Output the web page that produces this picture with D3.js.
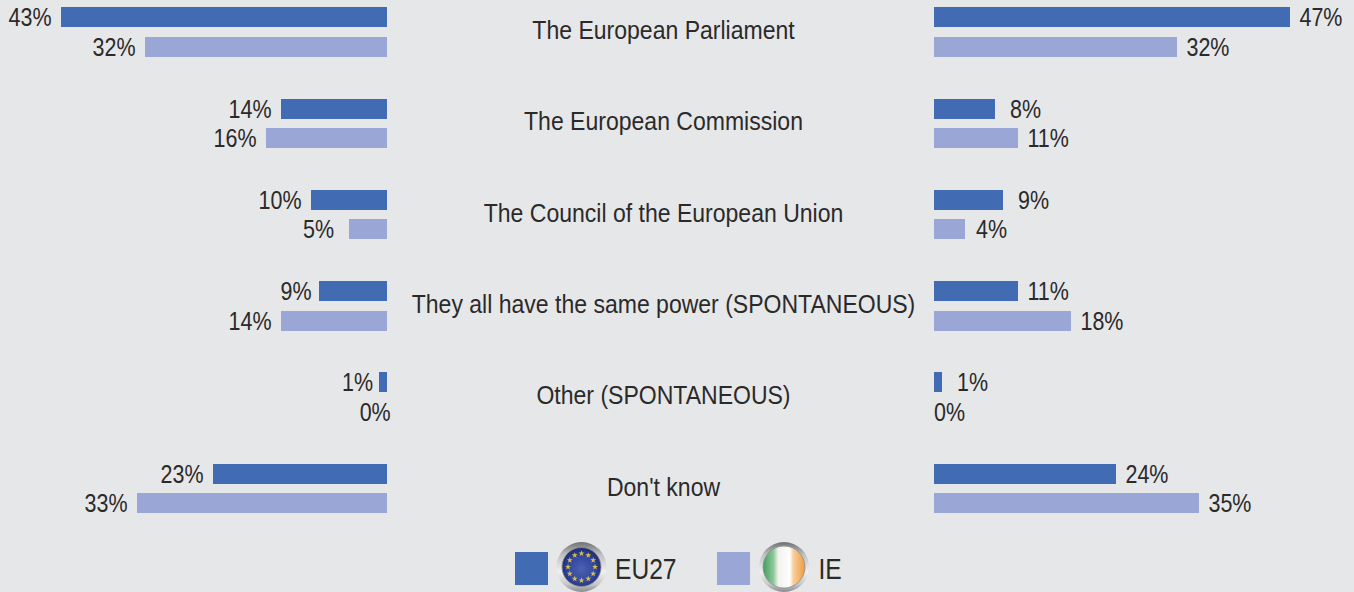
<!DOCTYPE html>
<html><head><meta charset="utf-8">
<script src="https://cdn.jsdelivr.net/npm/d3@7/dist/d3.min.js"></script>
<style>html,body{margin:0;padding:0;background:#e6e7e9;overflow:hidden}
text{font-family:"Liberation Sans",Arial,sans-serif;fill:#2b2a29}</style>
</head><body><svg id="c" width="1354" height="592"></svg>
<script>
const categories=["The European Parliament","The European Commission","The Council of the European Union","They all have the same power (SPONTANEOUS)","Other (SPONTANEOUS)","Don't know"];
const leftEU27=[43,14,10,9,1,23];
const leftIE=[32,16,5,14,0,33];
const rightEU27=[47,8,9,11,1,24];
const rightIE=[32,11,4,18,0,35];
const seriesNames=["EU27","IE"];
const seriesColors=["#416bb3","#99a6d6"];

const svg=d3.select("#c");
const rowY=d3.scalePoint().domain(categories).range([32,488.5]);
const w=7.57;
const xL=d3.scaleLinear().domain([0,100]).range([387,387-100*w]);
const xR=d3.scaleLinear().domain([0,100]).range([934.4,934.4+100*w]);
const barH=20, fs=26.5, pctSX=.81, catSX=.869;
const sets=[[leftEU27,xL,0,-1],[leftIE,xL,1,-1],[rightEU27,xR,0,1],[rightIE,xR,1,1]];
sets.forEach(([vals,x,s,dir])=>{
  const top=c=>Math.round(rowY(c)+(s?4.8:-24.8));
  const rows=categories.map((c,i)=>({c,v:vals[i]}));
  const g=svg.append("g");
  const x0=Math.round(x(0));
  g.selectAll("rect").data(rows.filter(d=>d.v>0)).join("rect")
    .attr("x",d=>dir<0?Math.round(x(d.v)):x0)
    .attr("width",d=>dir<0?x0-Math.round(x(d.v)):Math.round(x(d.v))-x0)
    .attr("y",d=>top(d.c)).attr("height",barH).attr("fill",seriesColors[s]);
  g.selectAll("text").data(rows).join("text")
    .attr("transform",d=>{
      let px;
      if(d.v===0) px=dir<0?x0+3.7:x0;
      else{
        const gap=d.v>=10?9.5:(dir>0?(s?11:15):(d.v===1?6:d.v===9?7.5:15));
        px=Math.round(x(d.v))+dir*gap;
      }
      return `translate(${px},${top(d.c)+(s?18.5:19)}) scale(${pctSX},1)`;})
    .attr("text-anchor",dir<0?"end":"start").attr("font-size",fs)
    .text(d=>d.v+"%");
});
svg.append("g").selectAll("text").data(categories).join("text")
  .attr("transform",c=>`translate(663.5,${rowY(c)+7}) scale(${catSX},1)`)
  .attr("text-anchor","middle").attr("font-size",fs).text(c=>c);

// legend
const defs=svg.append("defs");
defs.append("filter").attr("id","soft").attr("x","-10%").attr("y","-10%").attr("width","120%").attr("height","120%")
  .append("feGaussianBlur").attr("stdDeviation",.6);
const ring=defs.append("linearGradient").attr("id","ring").attr("x1",0).attr("y1",0).attr("x2",0).attr("y2",1);
[["0","#6f7072"],["0.25","#bfc0c2"],["0.6","#f0f0f0"],["0.85","#c4c5c7"],["1","#8a8b8d"]].forEach(([o,c])=>ring.append("stop").attr("offset",o).attr("stop-color",c));
const eu=defs.append("radialGradient").attr("id","eu").attr("cx",.5).attr("cy",.55).attr("r",.55);
eu.append("stop").attr("offset",0).attr("stop-color","#4a62b4");eu.append("stop").attr("offset",.6).attr("stop-color","#34479f");eu.append("stop").attr("offset",1).attr("stop-color","#1c2a70");
const ie=defs.append("linearGradient").attr("id","ie");
[["0","#3f9e5c"],["0.25","#8fc89a"],["0.36","#f0f2ec"],["0.64","#ffffff"],["0.72","#f9cf9c"],["1","#ef9a3c"]].forEach(([o,c])=>ie.append("stop").attr("offset",o).attr("stop-color",c));
const legend=[{x:515,cx:581.5,tx:615,r:19.5,fill:"url(#eu)"},{x:717,cx:784,tx:818.5,r:21,fill:"url(#ie)"}];
legend.forEach((l,i)=>{
  svg.append("rect").attr("x",l.x).attr("y",552).attr("width",33).attr("height",33).attr("fill",seriesColors[i]);
  const f=svg.append("g").attr("filter","url(#soft)");
  f.append("circle").attr("cx",l.cx).attr("cy",567).attr("r",25).attr("fill","url(#ring)");
  f.append("circle").attr("cx",l.cx).attr("cy",567).attr("r",l.r).attr("fill",l.fill).attr("stroke","#8d8e90").attr("stroke-width",.8);
  if(i===0){
    const star=d3.symbol().type(d3.symbolStar).size(11);
    d3.range(12).forEach(k=>{const a=k*Math.PI/6;
      f.append("path").attr("d",star).attr("fill","#d9c04e")
        .attr("transform",`translate(${l.cx+13.5*Math.sin(a)},${567-13.5*Math.cos(a)})`);});
  }
  svg.append("text").attr("transform",`translate(${l.tx},579) scale(.82,1)`).attr("font-size",30).text(seriesNames[i]);
});
</script></body></html>
